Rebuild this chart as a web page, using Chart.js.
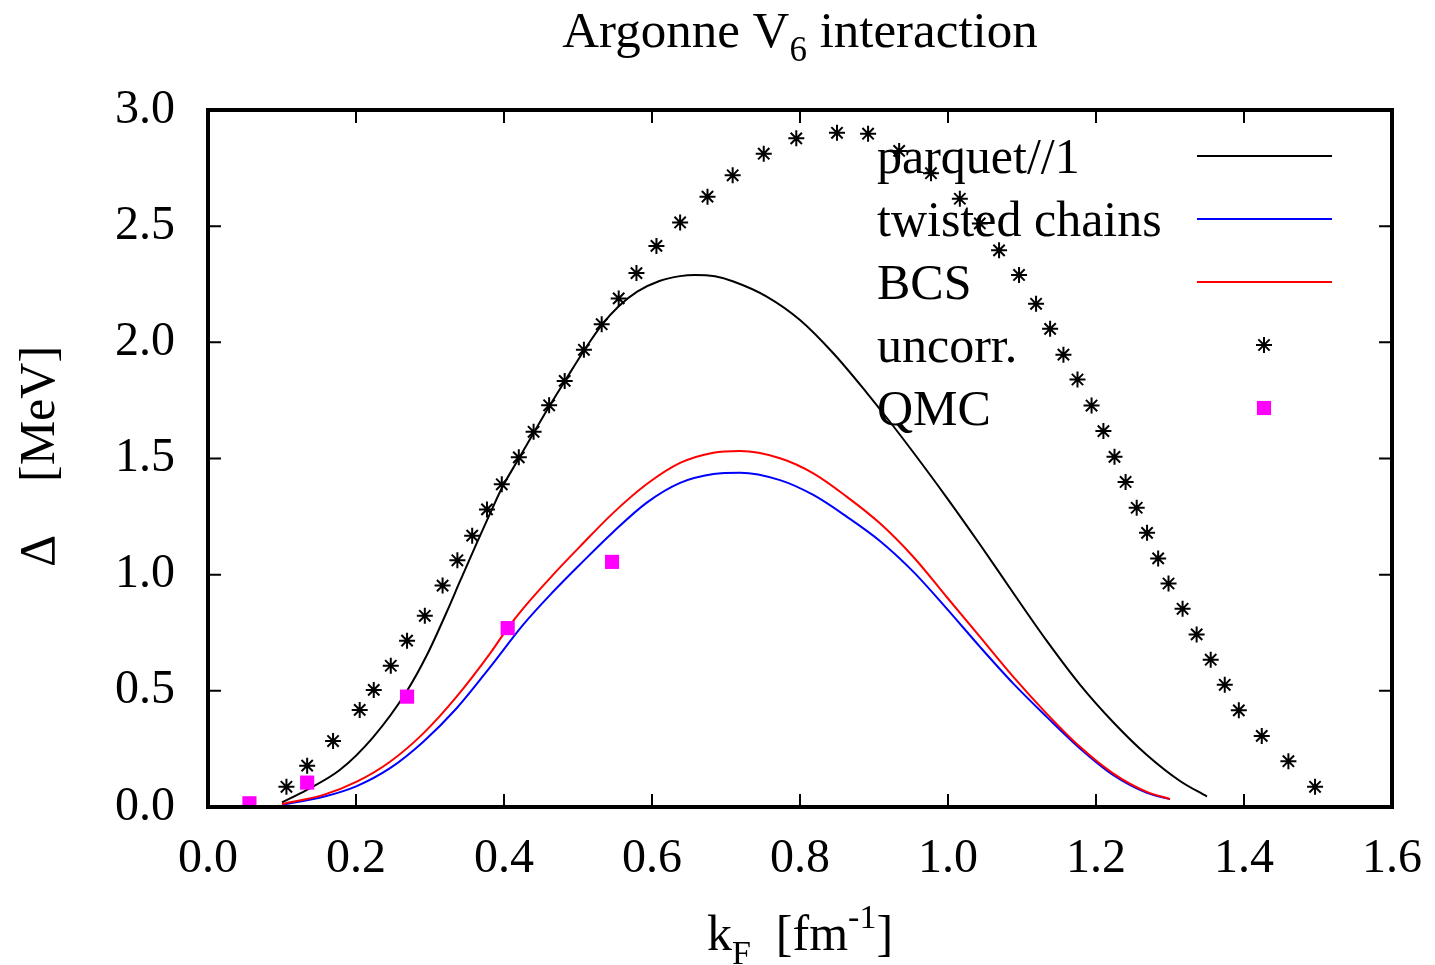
<!DOCTYPE html>
<html>
<head>
<meta charset="utf-8">
<script src="https://cdn.jsdelivr.net/npm/chart.js@4.4.0/dist/chart.umd.min.js"></script>
<style>
  body { margin: 0; background: #fff; }
  #wrap { width: 1435px; height: 965px; }
</style>
</head>
<body>
<div id="wrap"><canvas id="gapChart" width="1435" height="965"></canvas></div>
<script>
// pairing gap vs Fermi momentum
var parquetK   = [0.100, 0.133, 0.178, 0.223, 0.268, 0.296, 0.322, 0.341, 0.363, 0.380, 0.397, 0.420, 0.440, 0.461, 0.482, 0.508, 0.532, 0.555, 0.580, 0.610, 0.638, 0.658, 0.685, 0.710, 0.755, 0.800, 0.845, 0.890, 0.922, 0.953, 0.998, 1.043, 1.088, 1.133, 1.178, 1.223, 1.268, 1.313, 1.350];
var parquetGap = [0.020, 0.073, 0.159, 0.300, 0.495, 0.655, 0.835, 0.975, 1.135, 1.255, 1.372, 1.500, 1.610, 1.724, 1.832, 1.964, 2.074, 2.155, 2.218, 2.264, 2.285, 2.290, 2.284, 2.262, 2.197, 2.096, 1.953, 1.784, 1.656, 1.527, 1.333, 1.131, 0.922, 0.717, 0.528, 0.366, 0.226, 0.113, 0.045];

var twistedK   = [0.100, 0.156, 0.201, 0.246, 0.291, 0.336, 0.381, 0.426, 0.465, 0.503, 0.548, 0.593, 0.638, 0.683, 0.719, 0.773, 0.818, 0.863, 0.908, 0.953, 0.998, 1.043, 1.088, 1.133, 1.178, 1.223, 1.268, 1.300];
var twistedGap = [0.010, 0.044, 0.090, 0.167, 0.281, 0.425, 0.601, 0.785, 0.922, 1.045, 1.185, 1.310, 1.395, 1.433, 1.439, 1.407, 1.343, 1.250, 1.145, 1.013, 0.855, 0.690, 0.532, 0.389, 0.253, 0.138, 0.062, 0.034];

var bcsK   = [0.100, 0.156, 0.201, 0.246, 0.291, 0.336, 0.381, 0.405, 0.426, 0.465, 0.503, 0.548, 0.593, 0.638, 0.683, 0.719, 0.773, 0.818, 0.863, 0.908, 0.953, 0.998, 1.043, 1.088, 1.133, 1.178, 1.223, 1.268, 1.300];
var bcsGap = [0.013, 0.052, 0.109, 0.195, 0.317, 0.475, 0.660, 0.770, 0.855, 0.995, 1.122, 1.267, 1.390, 1.481, 1.525, 1.532, 1.501, 1.436, 1.336, 1.221, 1.077, 0.905, 0.733, 0.561, 0.403, 0.260, 0.145, 0.066, 0.034];

var uncorrK   = [0.106, 0.134, 0.169, 0.205, 0.224, 0.247, 0.269, 0.293, 0.317, 0.337, 0.357, 0.377, 0.397, 0.420, 0.440, 0.461, 0.482, 0.508, 0.532, 0.555, 0.579, 0.606, 0.638, 0.675, 0.709, 0.751, 0.795, 0.850, 0.892, 0.934, 0.977, 1.016, 1.043, 1.069, 1.096, 1.119, 1.138, 1.156, 1.175, 1.194, 1.210, 1.225, 1.240, 1.255, 1.269, 1.284, 1.298, 1.317, 1.336, 1.355, 1.374, 1.393, 1.424, 1.460, 1.496];
var uncorrGap = [0.087, 0.178, 0.284, 0.418, 0.504, 0.608, 0.716, 0.823, 0.953, 1.062, 1.168, 1.281, 1.389, 1.505, 1.615, 1.729, 1.834, 1.968, 2.078, 2.189, 2.298, 2.415, 2.516, 2.627, 2.719, 2.812, 2.878, 2.902, 2.898, 2.824, 2.728, 2.618, 2.512, 2.396, 2.290, 2.166, 2.058, 1.947, 1.840, 1.728, 1.618, 1.507, 1.399, 1.288, 1.180, 1.070, 0.962, 0.853, 0.743, 0.634, 0.526, 0.416, 0.306, 0.197, 0.087];

var qmcK   = [0.056, 0.134, 0.269, 0.405, 0.546];
var qmcGap = [0.016, 0.105, 0.475, 0.770, 1.055];

var legendLabels = ['parquet//1', 'twisted chains', 'BCS', 'uncorr.', 'QMC'];

var serif = "'Liberation Serif', 'Times New Roman', serif";

function toPoints(xs, ys) {
    return xs.map(function(x, i) { return { x: x, y: ys[i] }; });
}

// draws a row of text pieces (sub/superscripts via size + offset), centred on cx
function drawRuns(ctx, runs, cx, baseline) {
    var total = 0;
    runs.forEach(function(r) {
        ctx.font = r.size + 'px ' + serif;
        r.w = ctx.measureText(r.text).width;
        total += r.w;
    });
    var x = cx - total / 2;
    ctx.textAlign = 'left';
    ctx.textBaseline = 'alphabetic';
    runs.forEach(function(r) {
        ctx.font = r.size + 'px ' + serif;
        ctx.fillText(r.text, x, baseline + (r.dy || 0));
        x += r.w;
    });
}

var decorations = {
    id: 'decorations',
    afterDatasetsDraw: function(chart) {
        var ctx = chart.ctx, a = chart.chartArea;
        var xs = chart.scales.x, ys = chart.scales.y;
        ctx.save();
        ctx.fillStyle = '#000';
        ctx.strokeStyle = '#000';

        // inward tick marks on all four sides
        ctx.lineWidth = 2;
        ctx.beginPath();
        xs.ticks.forEach(function(t) {
            var px = xs.getPixelForValue(t.value);
            ctx.moveTo(px, a.bottom); ctx.lineTo(px, a.bottom - 13);
            ctx.moveTo(px, a.top); ctx.lineTo(px, a.top + 13);
        });
        ys.ticks.forEach(function(t) {
            var py = ys.getPixelForValue(t.value);
            ctx.moveTo(a.left, py); ctx.lineTo(a.left + 13, py);
            ctx.moveTo(a.right, py); ctx.lineTo(a.right - 13, py);
        });
        ctx.stroke();

        // frame
        ctx.lineWidth = 4;
        ctx.strokeRect(a.left, a.top, a.right - a.left, a.bottom - a.top);

        // key: label on the left, sample on the right
        var textX = 877, sampleL = 1197, sampleR = 1332, markX = 1264;
        chart.data.datasets.forEach(function(ds, i) {
            var base = 173 + i * 63;
            ctx.font = '50px ' + serif;
            ctx.textAlign = 'left';
            ctx.textBaseline = 'alphabetic';
            ctx.fillStyle = '#000';
            ctx.fillText(legendLabels[i], textX, base);
            var my = base - 17;
            if (ds.showLine) {
                ctx.strokeStyle = ds.borderColor;
                ctx.lineWidth = ds.borderWidth;
                ctx.beginPath();
                ctx.moveTo(sampleL, my);
                ctx.lineTo(sampleR, my);
                ctx.stroke();
            } else {
                ctx.strokeStyle = ds.borderColor;
                ctx.fillStyle = ds.backgroundColor;
                ctx.lineWidth = ds.borderWidth;
                Chart.helpers.drawPoint(ctx, {
                    pointStyle: ds.pointStyle,
                    radius: ds.pointRadius,
                    borderWidth: ds.borderWidth,
                    rotation: 0
                }, markX, my);
            }
        });

        // titles
        ctx.fillStyle = '#000';
        drawRuns(ctx, [
            { text: 'Argonne V', size: 51 },
            { text: '6', size: 35, dy: 14 },
            { text: ' interaction', size: 51 }
        ], 800, 47);

        drawRuns(ctx, [
            { text: 'k', size: 50 },
            { text: 'F', size: 34, dy: 14 },
            { text: '  [fm', size: 50 },
            { text: '-1', size: 34, dy: -22 },
            { text: ']', size: 50 }
        ], 800, 950);

        ctx.save();
        ctx.translate(54, 0);
        ctx.rotate(-Math.PI / 2);
        ctx.font = '50px ' + serif;
        ctx.textAlign = 'left';
        ctx.textBaseline = 'alphabetic';
        ctx.fillText('\u0394', -567, 0);
        ctx.fillText('[MeV]', -482, 0);
        ctx.restore();

        ctx.restore();
    }
};

var ctx = document.getElementById('gapChart').getContext('2d');
var gapChart = new Chart(ctx, {
    type: 'scatter',
    data: {
        datasets: [{
            label: legendLabels[0],
            data: toPoints(parquetK, parquetGap),
            showLine: true,
            borderColor: '#000000',
            backgroundColor: '#000000',
            borderWidth: 2,
            pointRadius: 0,
            cubicInterpolationMode: 'monotone',
            order: 5
        }, {
            label: legendLabels[1],
            data: toPoints(twistedK, twistedGap),
            showLine: true,
            borderColor: '#0000ff',
            backgroundColor: '#0000ff',
            borderWidth: 2,
            pointRadius: 0,
            cubicInterpolationMode: 'monotone',
            order: 4
        }, {
            label: legendLabels[2],
            data: toPoints(bcsK, bcsGap),
            showLine: true,
            borderColor: '#ff0000',
            backgroundColor: '#ff0000',
            borderWidth: 2,
            pointRadius: 0,
            cubicInterpolationMode: 'monotone',
            order: 3
        }, {
            label: legendLabels[3],
            data: toPoints(uncorrK, uncorrGap),
            showLine: false,
            pointStyle: 'star',
            pointRadius: 8,
            borderColor: '#000000',
            backgroundColor: '#000000',
            borderWidth: 2,
            order: 2
        }, {
            label: legendLabels[4],
            data: toPoints(qmcK, qmcGap),
            showLine: false,
            pointStyle: 'rect',
            pointRadius: 10,
            borderColor: '#ff00ff',
            backgroundColor: '#ff00ff',
            borderWidth: 0,
            order: 1
        }]
    },
    options: {
        responsive: false,
        animation: false,
        events: [],
        layout: { padding: { top: 110, right: 43, bottom: 0, left: 0 } },
        plugins: {
            legend: { display: false },
            title: { display: false },
            tooltip: { enabled: false }
        },
        scales: {
            x: {
                type: 'linear',
                min: 0,
                max: 1.6,
                grid: { display: false, drawTicks: false },
                border: { display: false },
                ticks: {
                    stepSize: 0.2,
                    autoSkip: false,
                    maxRotation: 0,
                    padding: 24,
                    color: '#000',
                    font: { family: serif, size: 48 },
                    callback: function(v) { return v.toFixed(1); }
                },
                afterFit: function(scale) {
                    scale.height = 158;
                    scale.paddingLeft = 0;
                    scale.paddingRight = 0;
                }
            },
            y: {
                type: 'linear',
                min: 0,
                max: 3,
                grid: { display: false, drawTicks: false },
                border: { display: false },
                ticks: {
                    stepSize: 0.5,
                    padding: 33,
                    color: '#000',
                    font: { family: serif, size: 48 },
                    callback: function(v) { return v.toFixed(1); }
                },
                afterFit: function(scale) {
                    scale.width = 208;
                    scale.paddingTop = 0;
                    scale.paddingBottom = 0;
                }
            }
        }
    },
    plugins: [decorations]
});
</script>
</body>
</html>
